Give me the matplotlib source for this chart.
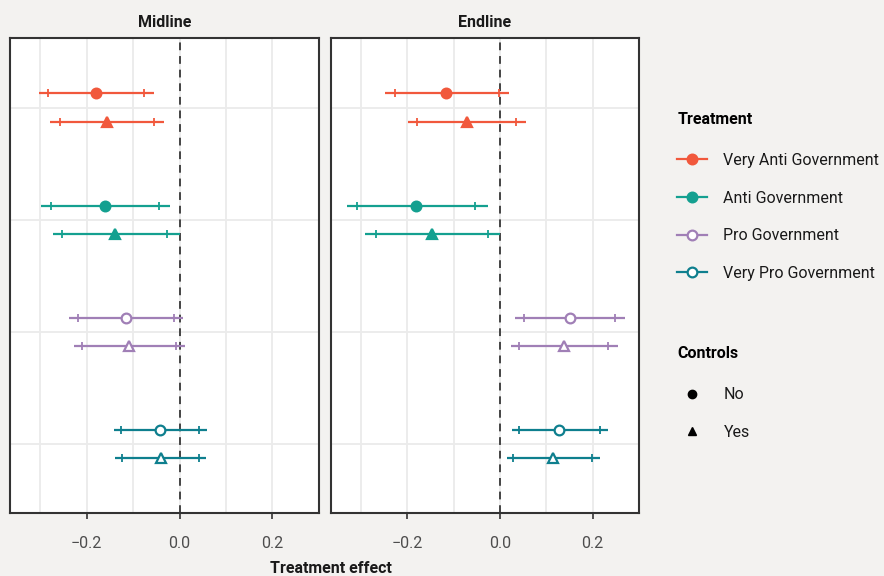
import matplotlib.pyplot as plt
from matplotlib.lines import Line2D
from matplotlib.ticker import MultipleLocator

plt.rcParams['font.family'] = ['Roboto', 'DejaVu Sans']

# treatment groups, top to bottom
groups = ["Very Anti Government", "Anti Government", "Pro Government", "Very Pro Government"]
colors = ["#F1583C", "#14A090", "#A07FB6", "#0E7F8E"]
filled = [True, True, False, False]
controls = ["No", "Yes"]
waves = ["Midline", "Endline"]

# values ordered per group: [no controls, with controls]
midline_est  = [-0.180, -0.157, -0.161, -0.140, -0.116, -0.108, -0.042, -0.041]
midline_lo95 = [-0.303, -0.278, -0.299, -0.273, -0.237, -0.227, -0.141, -0.138]
midline_hi95 = [-0.055, -0.034, -0.021,  0.000,  0.007,  0.012,  0.058,  0.057]
midline_lo90 = [-0.283, -0.258, -0.277, -0.253, -0.218, -0.209, -0.126, -0.123]
midline_hi90 = [-0.077, -0.056, -0.045, -0.026, -0.013, -0.007,  0.041,  0.041]

endline_est  = [-0.116, -0.071, -0.181, -0.147,  0.150,  0.137,  0.128,  0.114]
endline_lo95 = [-0.248, -0.199, -0.331, -0.291,  0.033,  0.023,  0.025,  0.014]
endline_hi95 = [ 0.020,  0.057, -0.027,  0.000,  0.269,  0.254,  0.234,  0.216]
endline_lo90 = [-0.227, -0.179, -0.309, -0.268,  0.051,  0.040,  0.041,  0.029]
endline_hi90 = [-0.002,  0.035, -0.054, -0.027,  0.249,  0.234,  0.216,  0.199]

data = {
    "Midline": (midline_est, midline_lo95, midline_hi95, midline_lo90, midline_hi90),
    "Endline": (endline_est, endline_lo95, endline_hi95, endline_lo90, endline_hi90),
}

bg = "#F3F2F0"
fs = 11.5
fig = plt.figure(figsize=(8.84, 5.76), dpi=100, facecolor=bg)
axes = [fig.add_axes([0.0113, 0.109, 0.3495, 0.825]),
        fig.add_axes([0.3744, 0.109, 0.3485, 0.825])]

markers = {"No": "o", "Yes": "^"}
msize = {"No": 7, "Yes": 7.5}
dodge = {"No": 0.125, "Yes": -0.125}

for ax, wave in zip(axes, waves):
    est, lo95, hi95, lo90, hi90 = data[wave]
    ax.set_facecolor("white")
    for gi, g in enumerate(groups):
        ypos = len(groups) - gi
        for ci, c in enumerate(controls):
            i = gi * 2 + ci
            y = ypos + dodge[c]
            col = colors[gi]
            ax.plot([lo95[i], hi95[i]], [y, y], color=col, lw=1.6, solid_capstyle="butt", zorder=3)
            ax.plot([lo90[i], hi90[i]], [y, y], ls="none", marker="|", ms=6, mew=1.3, color=col, zorder=3)
            ax.plot(est[i], y, marker=markers[c], ms=msize[c], color=col,
                    mfc=col if filled[gi] else "white", mec=col, mew=1.6, ls="none", zorder=4)
    ax.axvline(0, color="#444444", ls=(0, (4, 3)), lw=1.4, zorder=2)
    ax.set_xlim(-0.365, 0.300)
    ax.set_ylim(0.38, 4.62)
    ax.xaxis.set_major_locator(MultipleLocator(0.2))
    ax.xaxis.set_minor_locator(MultipleLocator(0.1))
    ax.set_yticks([1, 2, 3, 4])
    ax.grid(True, which="both", axis="x", color="#EBEBEB", lw=1.3, zorder=0)
    ax.grid(True, which="major", axis="y", color="#EBEBEB", lw=1.3, zorder=0)
    ax.set_axisbelow(True)
    ax.tick_params(axis="y", length=0, labelleft=False)
    ax.tick_params(axis="x", which="major", length=4.5, width=1.2, color="#333333",
                   labelsize=fs, labelcolor="#4D4D4D", pad=12)
    ax.tick_params(axis="x", which="minor", length=0)
    ax.xaxis.set_major_formatter(plt.FuncFormatter(lambda v, p: f"{v:.1f}".replace("-", "\u2212")))
    for s in ax.spines.values():
        s.set_color("#333333")
        s.set_linewidth(1.5)
    ax.set_title(wave, fontsize=fs, fontweight="bold", color="#1A1A1A", pad=8)

fig.text(0.374, 0.0, "Treatment effect", ha="center", va="bottom",
         fontsize=fs, fontweight="bold", color="#1A1A1A")

legend_kw = dict(loc="upper left", frameon=False, fontsize=fs,
                 handlelength=1.9, handletextpad=1.0, labelspacing=1.42,
                 borderpad=0, borderaxespad=0, alignment="left",
                 title_fontproperties={"weight": "bold", "size": fs})

treat_handles = [Line2D([], [], color=c, lw=1.6, marker="o", ms=7,
                        mfc=c if f else "white", mec=c, mew=1.6)
                 for c, f in zip(colors, filled)]
leg1 = fig.legend(treat_handles, groups, title="Treatment",
                  bbox_to_anchor=(0.766, 0.806), **legend_kw)
ctrl_handles = [Line2D([], [], color="black", ls="none", marker=markers[c], ms=6)
                for c in controls]
leg2 = fig.legend(ctrl_handles, controls, title="Controls",
                  bbox_to_anchor=(0.766, 0.399), **legend_kw)
for leg in (leg1, leg2):
    # a bit more room under the legend title
    leg._legend_box.sep = fs * 1.42 + 2.5
    for t in leg.get_texts():
        t.set_color("#1A1A1A")

fig.savefig("out.png", dpi=100, facecolor=bg)
